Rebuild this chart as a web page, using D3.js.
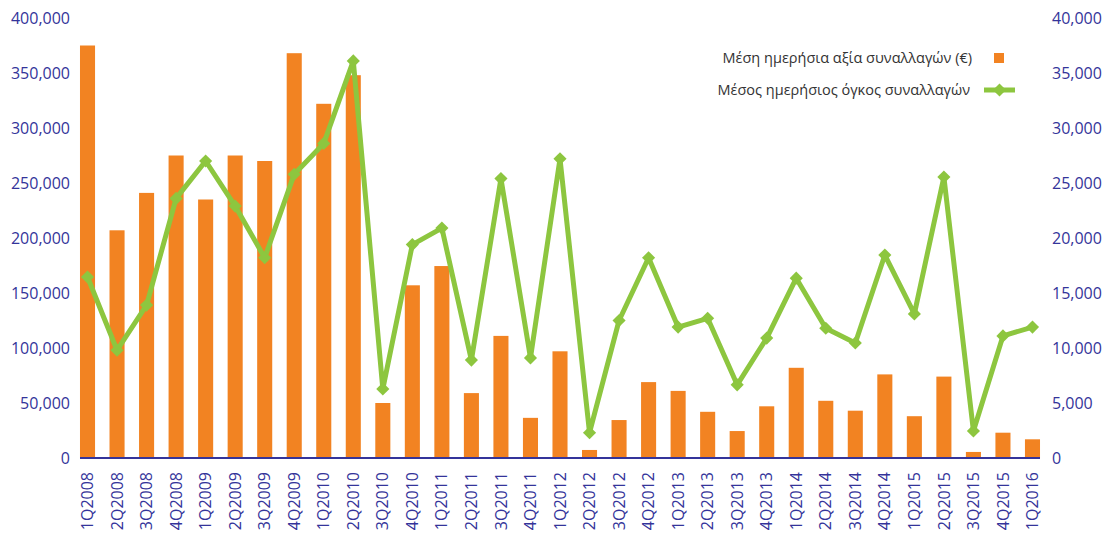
<!DOCTYPE html>
<html>
<head>
<meta charset="utf-8">
<script src="https://cdn.jsdelivr.net/npm/d3@7"></script>
<style>
  body { margin: 0; background: #fff; }
  text { font-family: "Open Sans", sans-serif; }
</style>
</head>
<body>
<svg id="chart" width="1107" height="537"></svg>
<script>
// quarters
var quarters = ["1Q2008","2Q2008","3Q2008","4Q2008","1Q2009","2Q2009","3Q2009","4Q2009",
  "1Q2010","2Q2010","3Q2010","4Q2010","1Q2011","2Q2011","3Q2011","4Q2011",
  "1Q2012","2Q2012","3Q2012","4Q2012","1Q2013","2Q2013","3Q2013","4Q2013",
  "1Q2014","2Q2014","3Q2014","4Q2014","1Q2015","2Q2015","3Q2015","4Q2015","1Q2016"];

// average daily value (€) - bars, left axis
var dailyValue = [375000,207000,241000,275000,235000,275000,270000,368000,
  322000,348000,50000,157000,174500,59000,111000,36500,
  97000,7300,34500,69000,61000,42000,24500,47000,
  82000,52000,43000,76000,38000,74000,5500,23000,17000];

// average daily volume - line, right axis
var dailyVolume = [16450,9800,13900,23600,27000,22900,18200,25800,
  28600,36100,6270,19400,20900,8900,25400,9100,
  27200,2300,12500,18200,11900,12700,6650,10900,
  16350,11800,10450,18450,13100,25550,2450,11100,11900];

var leftTicks = [0,50000,100000,150000,200000,250000,300000,350000,400000];
var rightTicks = [0,5000,10000,15000,20000,25000,30000,35000,40000];

var legendLabels = ["Μέση ημερήσια αξία συναλλαγών (€)", "Μέσος ημερήσιος όγκος συναλλαγών"];

var orange = "#f28322", green = "#8dc63f", navy = "#34349a";

var svg = d3.select("#chart");
var plotTop = 18, plotBottom = 458, plotLeft = 80, plotRight = 1040;

var x = d3.scaleBand().domain(quarters).range([72.75, 1047.25]).padding(0);
var yL = d3.scaleLinear().domain([0, 400000]).range([plotBottom, plotTop]);
var yR = d3.scaleLinear().domain([0, 40000]).range([plotBottom, plotTop]);
var fmt = d3.format(",");

var barW = x.bandwidth() * 0.51;

// bars
svg.append("g").selectAll("rect")
  .data(dailyValue)
  .enter()
  .append("rect")
  .attr("x", function (d, i) { return x(quarters[i]) + (x.bandwidth() - barW) / 2; })
  .attr("y", function (d) { return yL(d); })
  .attr("width", barW)
  .attr("height", function (d) { return plotBottom - yL(d); })
  .attr("fill", orange);

// baseline
svg.append("line")
  .attr("x1", plotLeft).attr("x2", plotRight)
  .attr("y1", plotBottom).attr("y2", plotBottom)
  .attr("stroke", navy).attr("stroke-width", 2);

// left axis
var axL = svg.append("g").attr("transform", "translate(" + plotLeft + ",0)")
  .call(d3.axisLeft(yL).tickValues(leftTicks).tickFormat(fmt).tickSize(0).tickPadding(10));
axL.select(".domain").remove();
axL.selectAll("text").attr("fill", navy).style("font-size", "16px").style("font-family", "Open Sans");

// right axis
var axR = svg.append("g").attr("transform", "translate(" + plotRight + ",0)")
  .call(d3.axisRight(yR).tickValues(rightTicks).tickFormat(fmt).tickSize(0).tickPadding(12));
axR.select(".domain").remove();
axR.selectAll("text").attr("fill", navy).style("font-size", "16px").style("font-family", "Open Sans");

// category labels
var axB = svg.append("g").attr("transform", "translate(0," + plotBottom + ")")
  .call(d3.axisBottom(x).tickSize(0));
axB.select(".domain").remove();
axB.selectAll("text")
  .attr("fill", navy)
  .style("font-size", "16px").style("font-family", "Open Sans")
  .attr("text-anchor", "end")
  .attr("transform", "rotate(-90)")
  .attr("x", -14).attr("y", 0).attr("dy", "0.35em");

// line
var line = d3.line()
  .x(function (d, i) { return x(quarters[i]) + x.bandwidth() / 2; })
  .y(function (d) { return yR(d); });

svg.append("path")
  .datum(dailyVolume)
  .attr("d", line)
  .attr("fill", "none")
  .attr("stroke", green)
  .attr("stroke-width", 5)
  .attr("stroke-linejoin", "round");

var diamond = d3.symbol().type(d3.symbolDiamond2).size(110);
svg.append("g").selectAll("path")
  .data(dailyVolume)
  .enter()
  .append("path")
  .attr("d", diamond)
  .attr("transform", function (d, i) {
    return "translate(" + (x(quarters[i]) + x.bandwidth() / 2) + "," + yR(d) + ")";
  })
  .attr("fill", green);

// legend
var lg = svg.append("g");
lg.append("text").attr("x", 972).attr("y", 58).attr("dy", "0.35em")
  .attr("text-anchor", "end").attr("fill", "#333").style("font-size", "14.5px")
  .text(legendLabels[0]);
lg.append("rect").attr("x", 994).attr("y", 53).attr("width", 10).attr("height", 10).attr("fill", orange);
lg.append("text").attr("x", 970).attr("y", 90).attr("dy", "0.35em")
  .attr("text-anchor", "end").attr("fill", "#333").style("font-size", "14.5px")
  .text(legendLabels[1]);
lg.append("line").attr("x1", 984).attr("x2", 1015).attr("y1", 90).attr("y2", 90)
  .attr("stroke", green).attr("stroke-width", 5);
lg.append("path").attr("d", diamond).attr("transform", "translate(999.5,90)").attr("fill", green);
</script>
</body>
</html>
